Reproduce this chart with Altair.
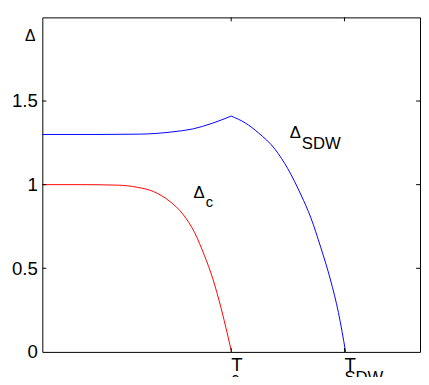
import altair as alt
import pandas as pd

# Data
red_x = [0.0, 0.1, 0.2, 0.252, 0.295, 0.338, 0.373, 0.403, 0.429, 0.451, 0.473, 0.490, 0.501]
red_y = [1.0, 1.0, 0.997, 0.984, 0.958, 0.899, 0.821, 0.714, 0.577, 0.440, 0.264, 0.107, 0.0]

blue_rise_x = [0.0, 0.15, 0.26, 0.346, 0.398, 0.45, 0.5]
blue_rise_y = [1.30, 1.30, 1.302, 1.316, 1.333, 1.367, 1.41]
blue_fall_x = [0.5, 0.538, 0.572, 0.616, 0.650, 0.685, 0.711, 0.737, 0.763, 0.784, 0.803]
blue_fall_y = [1.41, 1.368, 1.310, 1.212, 1.095, 0.938, 0.802, 0.626, 0.430, 0.235, 0.0]

y_ticks = [0, 0.5, 1, 1.5]
x_ticks = [0.5, 0.8]  # T_c, T_SDW

W, H = 385, 341
FONT = "Liberation Sans"

rows = []
for x, y in zip(red_x, red_y):
    rows.append({"x": x, "y": y, "series": "c", "part": "c"})
for x, y in zip(blue_rise_x, blue_rise_y):
    rows.append({"x": x, "y": y, "series": "SDW", "part": "rise"})
for x, y in zip(blue_fall_x, blue_fall_y):
    rows.append({"x": x, "y": y, "series": "SDW", "part": "fall"})
df = pd.DataFrame(rows)

xs = alt.Scale(domain=[0, 1], nice=False, zero=False)
ys = alt.Scale(domain=[0, 2], nice=False)

lines = alt.Chart(df).mark_line(strokeWidth=1, interpolate="monotone").encode(
    x=alt.X("x:Q", scale=xs, axis=None),
    y=alt.Y("y:Q", scale=ys, axis=alt.Axis(values=y_ticks, ticks=False, domain=False, grid=False,
                                           format="~g",
                                           labelFontSize=19, labelFont=FONT, labelColor="black",
                                           labelPadding=5, title=None, labelFlush=False)),
    color=alt.Color("series:N", scale=alt.Scale(domain=["c", "SDW"], range=["#ff0000", "#0000ff"]), legend=None),
    detail="part:N",
)

# inward ticks
yt = pd.DataFrame({"v": y_ticks[1:]})
xt = pd.DataFrame({"v": x_ticks})
left_ticks = alt.Chart(yt).mark_rule(color="black", strokeWidth=1).encode(
    y=alt.Y("v:Q", scale=ys), x=alt.value(0), x2=alt.value(4))
right_ticks = alt.Chart(yt).mark_rule(color="black", strokeWidth=1).encode(
    y=alt.Y("v:Q", scale=ys), x=alt.value(W), x2=alt.value(W - 4))
bottom_ticks = alt.Chart(xt).mark_rule(color="black", strokeWidth=1).encode(
    x=alt.X("v:Q", scale=xs), y=alt.value(H), y2=alt.value(H - 4))
top_ticks = alt.Chart(xt).mark_rule(color="black", strokeWidth=1).encode(
    x=alt.X("v:Q", scale=xs), y=alt.value(0), y2=alt.value(4))

# curve annotations (data coordinates)
ann = pd.DataFrame({
    "text": ["Δ", "c", "Δ", "SDW"],
    "x": [0.4, 0.433, 0.655, 0.687],
    "y": [0.921, 0.864, 1.277, 1.212],
    "size": [17, 15, 17, 17],
})
ann_text = alt.Chart(ann).mark_text(align="left", baseline="alphabetic", font=FONT, color="black").encode(
    x=alt.X("x:Q", scale=xs), y=alt.Y("y:Q", scale=ys), text="text:N",
    size=alt.Size("size:Q", scale=None, legend=None))

# tick labels under x axis and the y-axis symbol
tl = pd.DataFrame({
    "text": ["T", "c", "T", "SDW"],
    "x": [0.5, 0.5, 0.8, 0.8],
    "dx": [-3.7, 8.3, -8.7, 3],
    "py": [360, 373.5, 360, 373],
    "size": [19, 16, 19, 17],
})
tick_labels = alt.Chart(tl).mark_text(align="left", baseline="alphabetic", font=FONT, color="black").encode(
    x=alt.X("x:Q", scale=xs), y=alt.Y("py:Q", scale=None), text="text:N",
    size=alt.Size("size:Q", scale=None, legend=None), xOffset=alt.XOffset("dx:Q", scale=None))

delta = alt.Chart(pd.DataFrame({"t": ["Δ"]})).mark_text(
    align="right", baseline="alphabetic", font=FONT, fontSize=16, color="black").encode(
    x=alt.value(-7), y=alt.value(24), text="t:N")

chart = alt.layer(lines, left_ticks, right_ticks, bottom_ticks, top_ticks, ann_text, tick_labels, delta).properties(
    width=W, height=H,
    autosize=alt.AutoSizeParams(type="none"),
    padding={"left": 35, "top": 6, "right": 1, "bottom": 22},
    background="white",
).configure_view(stroke="black", strokeWidth=1)

chart.save("out.html", embed_options={"renderer": "svg", "actions": False})
